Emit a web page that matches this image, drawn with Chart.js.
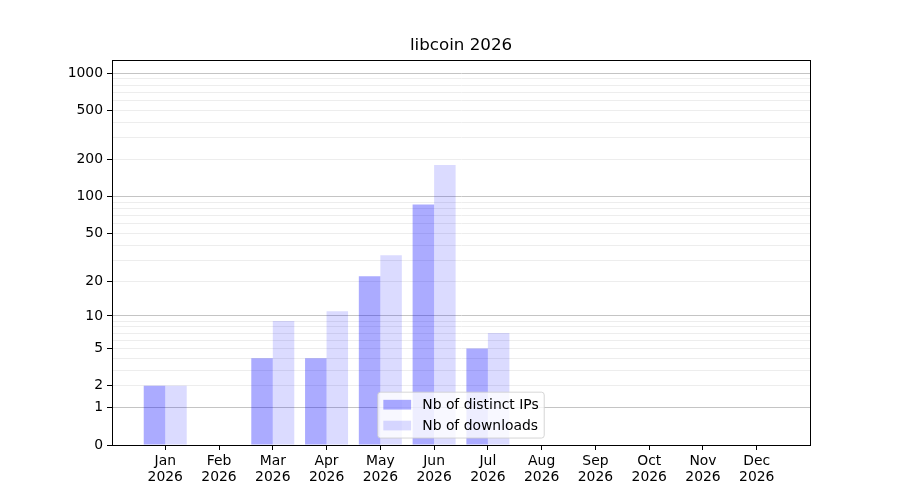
<!DOCTYPE html>
<html>
<head>
<meta charset="utf-8">
<script src="https://cdn.jsdelivr.net/npm/chart.js@4.4.0/dist/chart.umd.min.js"></script>
<style>
html, body { margin: 0; padding: 0; background: #fff; }
#wrap { width: 900px; height: 500px; }
</style>
</head>
<body>
<div id="wrap"><canvas id="chart"></canvas></div>
<script>
const months = ['Jan', 'Feb', 'Mar', 'Apr', 'May', 'Jun', 'Jul', 'Aug', 'Sep', 'Oct', 'Nov', 'Dec'];
const year = '2026';
const distinctIps = [2, 0, 4, 4, 22, 86, 5, 0, 0, 0, 0, 0];
const downloads = [2, 0, 9, 11, 33, 180, 7, 0, 0, 0, 0, 0];
const yTickLabels = [0, 1, 2, 5, 10, 20, 50, 100, 200, 500, 1000];
const yMajorLines = [1, 10, 100, 1000];

const FONT = 'DejaVu Sans';
Chart.defaults.font.family = FONT;
Chart.defaults.color = '#000';

// y axis drawn as log10(1 + v), like matplotlib's symlog look here
class Log1pScale extends Chart.LinearScale {
    buildTicks() {
        const vals = [0];
        for (let d = 1; d <= 1000; d *= 10) {
            for (let k = 1; k < 10; k++) {
                if (k * d <= this.max) vals.push(k * d);
            }
        }
        return vals.map(v => ({value: v}));
    }
    configure() {
        super.configure();
        this._tmin = Math.log10(1 + this.min);
        this._tmax = Math.log10(1 + this.max);
    }
    getPixelForValue(v) {
        if (v === null || v === undefined || isNaN(v)) return NaN;
        return this.getPixelForDecimal((Math.log10(1 + v) - this._tmin) / (this._tmax - this._tmin));
    }
    getValueForPixel(p) {
        const d = this.getDecimalForPixel(p);
        return Math.pow(10, this._tmin + d * (this._tmax - this._tmin)) - 1;
    }
}
Log1pScale.id = 'log1p';
Log1pScale.defaults = {};
Chart.register(Log1pScale);

const frame = {
    id: 'frame',
    afterDraw(chart) {
        const a = chart.chartArea, ctx = chart.ctx;
        ctx.save();
        ctx.strokeStyle = '#000';
        ctx.lineWidth = 1;
        ctx.strokeRect(Math.round(a.left) + 0.5, Math.round(a.top) + 0.5,
            Math.round(a.right - a.left), Math.round(a.bottom - a.top));
        ctx.restore();
    }
};

const boxLegend = {
    id: 'boxLegend',
    afterDraw(chart) {
        const ctx = chart.ctx, a = chart.chartArea;
        const fs = 13.9;
        const items = chart.data.datasets;
        ctx.save();
        ctx.font = fs + 'px "' + FONT + '"';
        const tw = Math.max(...items.map(d => ctx.measureText(d.label).width));
        const pad = 0.4 * fs, hl = 2 * fs, hh = 0.7 * fs, htp = 0.8 * fs, ls = 0.5 * fs, rowH = fs;
        const w = pad * 2 + hl + htp + tw;
        const h = pad * 2 + items.length * rowH + (items.length - 1) * ls;
        const x = (a.left + a.right) / 2 - w / 2;
        const y = a.bottom - 0.5 * fs - h;
        ctx.beginPath();
        ctx.roundRect(x, y, w, h, 0.2 * fs);
        ctx.fillStyle = 'rgba(255,255,255,0.8)';
        ctx.fill();
        ctx.strokeStyle = 'rgba(204,204,204,0.8)';
        ctx.lineWidth = 1;
        ctx.stroke();
        items.forEach((d, i) => {
            const cy = y + pad + i * (rowH + ls) + rowH / 2;
            ctx.fillStyle = d.backgroundColor;
            ctx.fillRect(x + pad, cy - hh / 2, hl, hh);
            ctx.fillStyle = '#000';
            ctx.textBaseline = 'middle';
            ctx.fillText(d.label, x + pad + hl + htp, cy + 1);
        });
        ctx.restore();
    }
};

const ctx = document.getElementById('chart').getContext('2d');
new Chart(ctx, {
    type: 'bar',
    data: {
        datasets: [{
            label: 'Nb of distinct IPs',
            data: distinctIps.map((v, i) => ({x: i, y: v})),
            backgroundColor: 'rgba(0,0,255,0.33)',
            borderWidth: 0
        }, {
            label: 'Nb of downloads',
            data: downloads.map((v, i) => ({x: i, y: v})),
            backgroundColor: 'rgba(0,0,255,0.14)',
            borderWidth: 0
        }]
    },
    options: {
        responsive: true,
        maintainAspectRatio: false,
        animation: false,
        categoryPercentage: 0.8,
        barPercentage: 1.0,
        layout: {padding: {left: 0, right: 90, top: 0, bottom: 0}},
        plugins: {
            legend: {display: false},
            tooltip: {enabled: false},
            title: {
                display: true,
                text: 'libcoin ' + year,
                fullSize: false,
                color: '#000',
                font: {size: 16.7, weight: 'normal', family: FONT},
                padding: {top: 36, bottom: 4}
            }
        },
        scales: {
            x: {
                type: 'linear',
                offset: false,
                min: -0.99,
                max: 11.99,
                afterBuildTicks: s => { s.ticks = months.map((m, i) => ({value: i})); },
                afterFit: s => { s.height = 55; },
                grid: {display: true, drawOnChartArea: false, offset: false, tickLength: 5, tickColor: '#000'},
                border: {display: true, color: '#000'},
                ticks: {
                    autoSkip: false,
                    maxRotation: 0,
                    padding: 4,
                    color: '#000',
                    font: {size: 13.9, lineHeight: 1.12},
                    callback: v => [months[v], year]
                }
            },
            y: {
                type: 'log1p',
                min: 0,
                max: 1273,
                afterFit: s => { s.width = 112; },
                grid: {
                    color: c => yMajorLines.includes(c.tick.value) ? '#c4c4c4' : '#ededed',
                    tickColor: c => yTickLabels.includes(c.tick.value) ? '#000' : 'rgba(0,0,0,0)',
                    tickLength: 5
                },
                border: {display: true, color: '#000'},
                ticks: {
                    autoSkip: false,
                    padding: 4,
                    color: '#000',
                    font: {size: 13.9},
                    callback: v => yTickLabels.includes(v) ? String(v) : ''
                }
            }
        }
    },
    plugins: [frame, boxLegend]
});
</script>
</body>
</html>
